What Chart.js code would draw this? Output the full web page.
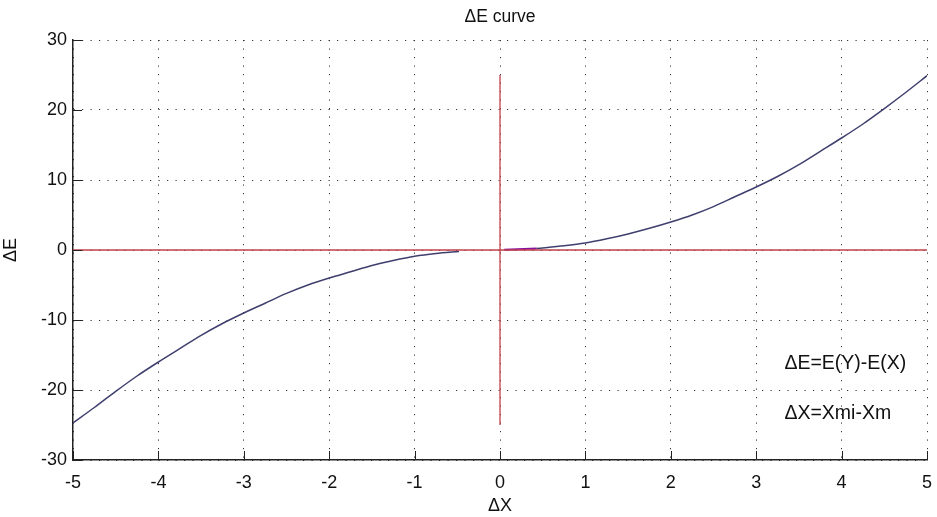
<!DOCTYPE html>
<html>
<head>
<meta charset="utf-8">
<script src="https://cdn.jsdelivr.net/npm/chart.js@4.4.0/dist/chart.umd.min.js"></script>
<style>
  html, body { margin: 0; padding: 0; background: #fff; }
  #wrap { width: 937px; height: 517px; }
</style>
</head>
<body>
<div id="wrap"><canvas id="chart" width="937" height="517"></canvas></div>
<script>
// curve, left branch stops short of zero
const negX = [-5, -4.75, -4.5, -4.25, -4, -3.75, -3.5, -3.25, -3, -2.75, -2.5, -2.25, -2, -1.75, -1.5, -1.25, -1, -0.75, -0.48];
const negE = [-24.7, -22.5, -20.2, -18.0, -16.0, -14.1, -12.2, -10.5, -9.0, -7.6, -6.2, -5.0, -4.0, -3.1, -2.2, -1.5, -0.9, -0.5, -0.2];
const posX = [0.43, 0.75, 1, 1.25, 1.5, 1.75, 2, 2.25, 2.5, 2.75, 3, 3.25, 3.5, 3.75, 4, 4.25, 4.5, 4.75, 5];
const posE = [0.2, 0.6, 1.0, 1.6, 2.3, 3.1, 4.0, 5.0, 6.2, 7.6, 9.0, 10.5, 12.2, 14.1, 16.0, 18.0, 20.2, 22.5, 24.9];
const nearX = [0.05, 0.43];
const nearE = [0.05, 0.2];
const axisX = [-5, 5];
const axisE = [-25, 25];
const xTicks = [-5, -4, -3, -2, -1, 0, 1, 2, 3, 4, 5];
const yTicks = [-30, -20, -10, 0, 10, 20, 30];

const FONT = 'Liberation Sans, Arial, sans-serif';
const curveColor = '#3f3f6e';
const redColor = '#c0404a';
const dots = [1.2, 7.3];

function pts(xs, ys) {
    return xs.map((x, i) => ({ x: x, y: ys[i] }));
}

// matlab style extras: inward ticks, title and the two notes
const extras = {
    id: 'extras',
    afterDraw(chart) {
        const ctx = chart.ctx;
        const xs = chart.scales.x;
        const ys = chart.scales.y;
        const area = chart.chartArea;
        ctx.save();
        ctx.strokeStyle = '#222';
        ctx.lineWidth = 1;
        ctx.beginPath();
        xTicks.forEach(v => {
            const px = Math.round(xs.getPixelForValue(v)) + 0.5;
            ctx.moveTo(px, area.bottom);
            ctx.lineTo(px, area.bottom - 9);
        });
        yTicks.forEach(v => {
            const py = Math.round(ys.getPixelForValue(v)) + 0.5;
            ctx.moveTo(area.left, py);
            ctx.lineTo(area.left + 9, py);
        });
        ctx.stroke();

        ctx.fillStyle = '#111';
        ctx.font = '17.5px ' + FONT;
        ctx.textAlign = 'center';
        ctx.textBaseline = 'middle';
        ctx.fillText('ΔE curve', (area.left + area.right) / 2, 17);

        ctx.font = '19.5px ' + FONT;
        ctx.textAlign = 'left';
        ctx.fillText('ΔE=E(Y)-E(X)', xs.getPixelForValue(3.33), ys.getPixelForValue(-16.3));
        ctx.fillText('ΔX=Xmi-Xm', xs.getPixelForValue(3.33), ys.getPixelForValue(-23.4));
        ctx.restore();
    }
};

const ctx = document.getElementById('chart').getContext('2d');
new Chart(ctx, {
    type: 'line',
    data: {
        datasets: [
            { data: pts(axisX, [0, 0]), borderColor: redColor, borderWidth: 1.3 },
            { data: pts([0, 0], axisE), borderColor: redColor, borderWidth: 1.3 },
            { data: pts(negX, negE), borderColor: curveColor, borderWidth: 1.5, tension: 0.3 },
            { data: pts(posX, posE), borderColor: curveColor, borderWidth: 1.5, tension: 0.3 },
            { data: pts(nearX, nearE), borderColor: '#8a10a0', borderWidth: 2 }
        ]
    },
    options: {
        responsive: false,
        animation: false,
        layout: { padding: { top: 40, right: 10, left: 0, bottom: 0 } },
        elements: { point: { radius: 0 } },
        plugins: {
            legend: { display: false },
            tooltip: { enabled: false }
        },
        scales: {
            x: {
                type: 'linear',
                min: -5,
                max: 5,
                afterBuildTicks: s => { s.ticks = xTicks.map(v => ({ value: v })); },
                afterFit: s => { s.height = 57; s.paddingRight = 0; s.paddingLeft = 0; },
                grid: { color: '#333', lineWidth: 1, drawTicks: false },
                border: { display: true, color: '#222', width: 1.5, dash: dots },
                ticks: { color: '#111', font: { family: FONT, size: 18 }, padding: 12, maxRotation: 0 },
                title: { display: true, text: 'ΔX', color: '#111', font: { family: FONT, size: 18 }, padding: { top: 0, bottom: 0 } }
            },
            y: {
                type: 'linear',
                min: -30,
                max: 30,
                afterBuildTicks: s => { s.ticks = yTicks.map(v => ({ value: v })); },
                afterFit: s => { s.width = 73; },
                grid: { color: '#333', lineWidth: 1, drawTicks: false },
                border: { display: true, color: '#222', width: 1.5, dash: dots },
                ticks: { color: '#111', font: { family: FONT, size: 18 }, padding: 6 },
                title: { display: true, text: 'ΔE', color: '#111', font: { family: FONT, size: 18 }, padding: { top: 0, bottom: 0 } }
            }
        }
    },
    plugins: [extras]
});
</script>
</body>
</html>
